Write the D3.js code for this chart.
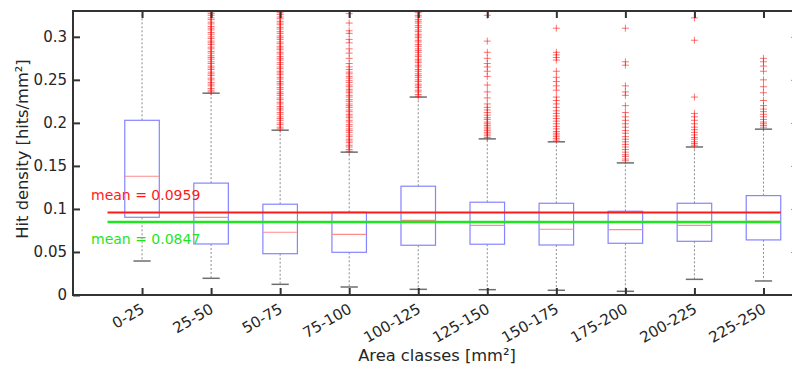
<!DOCTYPE html>
<html>
<head>
<meta charset="utf-8">
<script src="https://cdn.jsdelivr.net/npm/d3@7"></script>
<style>
  body { margin: 0; background: #fff; }
  svg { display: block; font-family: "DejaVu Sans", sans-serif; }
</style>
</head>
<body>
<div id="chart"></div>
<script>
// area classes (x categories)
var categories = ["0-25", "25-50", "50-75", "75-100", "100-125", "125-150", "150-175", "175-200", "200-225", "225-250"];

// box statistics (hits/mm²)
var whiskerLow  = [0.0395, 0.0194, 0.0124, 0.0093, 0.0066, 0.0062, 0.0055, 0.0043, 0.0182, 0.0163];
var q1          = [0.0903, 0.0593, 0.0480, 0.0496, 0.0578, 0.0590, 0.0581, 0.0601, 0.0624, 0.0640];
var median      = [0.1380, 0.0903, 0.0729, 0.0705, 0.0868, 0.0810, 0.0764, 0.0760, 0.0810, 0.0857];
var q3          = [0.2030, 0.1300, 0.1055, 0.0961, 0.1264, 0.1078, 0.1066, 0.0973, 0.1066, 0.1155];
var whiskerHigh = [0.3720, 0.2345, 0.1915, 0.1660, 0.2300, 0.1814, 0.1780, 0.1535, 0.1720, 0.1927];

// outliers per class
var outliers0 = [];
var outliers1 = [0.236, 0.238, 0.240, 0.243, 0.245, 0.247, 0.250, 0.252, 0.255, 0.257, 0.259, 0.262, 0.264, 0.266, 0.269, 0.271, 0.274, 0.276, 0.278, 0.281, 0.283, 0.286, 0.288, 0.291, 0.293, 0.295, 0.298, 0.300, 0.303, 0.305, 0.308, 0.310, 0.312, 0.315, 0.317, 0.320, 0.322, 0.325, 0.327, 0.329];
var outliers2 = [0.193, 0.195, 0.198, 0.200, 0.203, 0.205, 0.207, 0.210, 0.212, 0.215, 0.217, 0.219, 0.222, 0.224, 0.227, 0.229, 0.232, 0.234, 0.236, 0.239, 0.241, 0.244, 0.246, 0.248, 0.251, 0.253, 0.256, 0.258, 0.260, 0.263, 0.265, 0.268, 0.270, 0.273, 0.275, 0.277, 0.280, 0.282, 0.285, 0.287, 0.289, 0.292, 0.294, 0.297, 0.299, 0.301, 0.304, 0.306, 0.309, 0.311, 0.314, 0.316, 0.318, 0.321, 0.323, 0.326, 0.328];
var outliers3 = [0.167, 0.169, 0.172, 0.174, 0.177, 0.179, 0.181, 0.184, 0.186, 0.189, 0.191, 0.193, 0.196, 0.198, 0.201, 0.203, 0.206, 0.208, 0.210, 0.213, 0.215, 0.218, 0.220, 0.222, 0.225, 0.227, 0.230, 0.232, 0.235, 0.237, 0.239, 0.242, 0.244, 0.247, 0.249, 0.252, 0.254, 0.257, 0.259, 0.262, 0.265, 0.269, 0.275, 0.281, 0.286, 0.293, 0.297, 0.304, 0.307, 0.316, 0.327];
var outliers4 = [0.231, 0.233, 0.236, 0.238, 0.241, 0.243, 0.245, 0.248, 0.250, 0.253, 0.255, 0.257, 0.260, 0.262, 0.265, 0.267, 0.270, 0.272, 0.274, 0.277, 0.279, 0.282, 0.284, 0.286, 0.289, 0.291, 0.294, 0.296, 0.299, 0.301, 0.303, 0.306, 0.308, 0.311, 0.313, 0.316, 0.318, 0.320, 0.323, 0.325, 0.328];
var outliers5 = [0.183, 0.185, 0.187, 0.189, 0.191, 0.193, 0.195, 0.197, 0.199, 0.201, 0.204, 0.206, 0.209, 0.212, 0.215, 0.218, 0.222, 0.229, 0.236, 0.244, 0.254, 0.260, 0.265, 0.269, 0.275, 0.282, 0.295, 0.325];
var outliers6 = [0.180, 0.182, 0.184, 0.186, 0.188, 0.190, 0.193, 0.196, 0.199, 0.202, 0.205, 0.208, 0.211, 0.214, 0.218, 0.222, 0.226, 0.230, 0.238, 0.243, 0.248, 0.253, 0.260, 0.273, 0.276, 0.279, 0.282, 0.310];
var outliers7 = [0.156, 0.158, 0.161, 0.163, 0.166, 0.169, 0.172, 0.175, 0.178, 0.181, 0.184, 0.188, 0.191, 0.195, 0.199, 0.203, 0.207, 0.212, 0.220, 0.232, 0.236, 0.243, 0.267, 0.271, 0.310];
var outliers8 = [0.174, 0.176, 0.178, 0.181, 0.183, 0.186, 0.189, 0.192, 0.195, 0.199, 0.203, 0.207, 0.211, 0.230, 0.296, 0.322];
var outliers9 = [0.195, 0.197, 0.199, 0.201, 0.204, 0.207, 0.210, 0.213, 0.216, 0.220, 0.226, 0.235, 0.242, 0.250, 0.260, 0.266, 0.271, 0.275];
var outliers = [outliers0, outliers1, outliers2, outliers3, outliers4, outliers5, outliers6, outliers7, outliers8, outliers9];

// overall means
var meanValues = [0.0959, 0.0847];
var meanLabels = ["mean = 0.0959", "mean = 0.0847"];
var meanColors = ["#ff1a1a", "#1ee61e"];

var yTicks = [0, 0.05, 0.1, 0.15, 0.2, 0.25, 0.3];

var W = 792, H = 368;
var mLeft = 73, mRight = 798, mTop = 11, mBottom = 295;

var x = d3.scaleLinear().domain([0, 10.5]).range([mLeft, mRight]);
var y = d3.scaleLinear().domain([0, 0.33]).range([mBottom, mTop]);
var pos = categories.map(function(c, i) { return i + 1; });

var svg = d3.select("#chart").append("svg")
  .attr("width", W).attr("height", H);

svg.append("rect").attr("width", W).attr("height", H).attr("fill", "#fff");

svg.append("clipPath").attr("id", "plot-clip")
  .append("rect")
  .attr("x", mLeft).attr("y", mTop)
  .attr("width", mRight - mLeft).attr("height", mBottom - mTop);

var plot = svg.append("g").attr("clip-path", "url(#plot-clip)");

var halfBox = 0.25, halfCap = 0.125;

/* whiskers */
categories.forEach(function(c, i) {
  var cx = x(pos[i]);
  plot.append("line")
    .attr("x1", cx).attr("x2", cx)
    .attr("y1", y(q3[i])).attr("y2", y(whiskerHigh[i]))
    .attr("stroke", "#8c8c8c").attr("stroke-width", 1).attr("stroke-dasharray", "2,2");
  plot.append("line")
    .attr("x1", cx).attr("x2", cx)
    .attr("y1", y(q1[i])).attr("y2", y(whiskerLow[i]))
    .attr("stroke", "#8c8c8c").attr("stroke-width", 1).attr("stroke-dasharray", "2,2");
  [whiskerLow[i], whiskerHigh[i]].forEach(function(v) {
    plot.append("line")
      .attr("x1", x(pos[i] - halfCap)).attr("x2", x(pos[i] + halfCap))
      .attr("y1", y(v)).attr("y2", y(v))
      .attr("stroke", "#6e6e6e").attr("stroke-width", 1.5);
  });
});

/* outliers as + markers */
var outG = plot.append("g")
  .attr("stroke", "#ff0000").attr("stroke-opacity", 0.55).attr("stroke-width", 1);
outliers.forEach(function(list, i) {
  var cx = x(pos[i]);
  list.forEach(function(v) {
    var cy = y(v);
    outG.append("path").attr("d", "M" + (cx - 3.5) + "," + cy + "H" + (cx + 3.5) + "M" + cx + "," + (cy - 3.5) + "V" + (cy + 3.5));
  });
});

/* boxes and medians */
categories.forEach(function(c, i) {
  plot.append("rect")
    .attr("x", x(pos[i] - halfBox))
    .attr("y", y(q3[i]))
    .attr("width", x(pos[i] + halfBox) - x(pos[i] - halfBox))
    .attr("height", y(q1[i]) - y(q3[i]))
    .attr("fill", "none").attr("stroke", "#8585ff").attr("stroke-width", 1.2);
  plot.append("line")
    .attr("x1", x(pos[i] - halfBox)).attr("x2", x(pos[i] + halfBox))
    .attr("y1", y(median[i])).attr("y2", y(median[i]))
    .attr("stroke", "#ff8a8a").attr("stroke-width", 1.2);
});

/* mean lines */
meanValues.forEach(function(m, k) {
  plot.append("line")
    .attr("x1", x(0.5)).attr("x2", x(10.25))
    .attr("y1", y(m)).attr("y2", y(m))
    .attr("stroke", meanColors[k]).attr("stroke-width", k === 0 ? 2 : 2.5);
});
svg.append("text").attr("x", 91).attr("y", 200)
  .attr("font-size", 14).attr("fill", meanColors[0]).text(meanLabels[0]);
svg.append("text").attr("x", 91).attr("y", 244)
  .attr("font-size", 14).attr("fill", meanColors[1]).text(meanLabels[1]);

/* axes */
var axisColor = "#333";
var yAxis = d3.axisLeft(y).tickValues(yTicks).tickSize(-7).tickPadding(6)
  .tickFormat(function(d) { return d3.format("~g")(d); });
var gy = svg.append("g").attr("transform", "translate(" + mLeft + ",0)").call(yAxis);

var gyr = svg.append("g").attr("transform", "translate(" + mRight + ",0)")
  .call(d3.axisRight(y).tickValues(yTicks).tickSize(-7).tickFormat(""));

var xAxis = d3.axisBottom(x).tickValues(pos).tickSize(-7).tickPadding(6)
  .tickFormat(function(d) { return categories[d - 1]; });
var gx = svg.append("g").attr("transform", "translate(0," + mBottom + ")").call(xAxis);

var gxt = svg.append("g").attr("transform", "translate(0," + mTop + ")")
  .call(d3.axisTop(x).tickValues(pos).tickSize(-7).tickFormat(""));

[gy, gyr, gx, gxt].forEach(function(g) {
  g.select(".domain").remove();
  g.selectAll(".tick line").attr("stroke", axisColor).attr("stroke-width", 2);
  g.selectAll(".tick text").attr("fill", "#262626").attr("font-size", 15)
    .attr("font-family", "DejaVu Sans, sans-serif");
});
gyr.selectAll(".tick line").attr("stroke", "#999").attr("stroke-width", 1);

gx.selectAll(".tick text")
  .attr("text-anchor", "end")
  .attr("dy", null)
  .attr("y", null)
  .attr("transform", "translate(3,17) rotate(-30)");

/* frame */
svg.append("path")
  .attr("d", "M" + mRight + "," + mTop + "H" + mLeft + "V" + mBottom + "H" + mRight)
  .attr("fill", "none").attr("stroke", axisColor).attr("stroke-width", 2);

/* axis labels */
svg.append("text")
  .attr("transform", "translate(28,149) rotate(-90)")
  .attr("text-anchor", "middle").attr("font-size", 16.3).attr("fill", "#262626")
  .text("Hit density [hits/mm²]");
svg.append("text")
  .attr("x", 437).attr("y", 361)
  .attr("text-anchor", "middle").attr("font-size", 16.3).attr("fill", "#262626")
  .text("Area classes [mm²]");
</script>
</body>
</html>
